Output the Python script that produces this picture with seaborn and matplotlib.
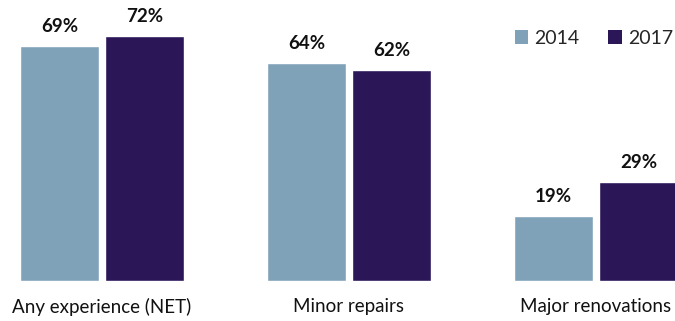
import matplotlib
matplotlib.use("Agg")
import matplotlib.pyplot as plt
from matplotlib.patches import Patch
import seaborn as sns
import pandas as pd

categories = ["Any experience (NET)", "Minor repairs", "Major renovations"]
years = ["2014", "2017"]
values_2014 = [69, 64, 19]
values_2017 = [72, 62, 29]
colors = ["#80A2B9", "#2B1658"]

df = pd.DataFrame({
    "category": categories * 2,
    "year": [years[0]] * 3 + [years[1]] * 3,
    "value": values_2014 + values_2017,
})

sns.set_theme(style="white")
plt.rcParams["font.family"] = ["Lato", "DejaVu Sans"]

fig = plt.figure(figsize=(6.75, 3.21), dpi=100)
ax = fig.add_axes([0, 40 / 321, 1, 281 / 321])

sns.barplot(data=df, x="category", y="value", hue="year", order=categories,
            hue_order=years, palette=colors, width=0.69, gap=0.08,
            saturation=1, legend=False, ax=ax)

for container in ax.containers:
    ax.bar_label(container, labels=[f"{v:.0f}%" for v in container.datavalues],
                 padding=8, fontsize=13.5, fontweight="bold", color="#111111")

ax.set_xlim(-0.413, 2.32)
ax.set_ylim(0, 82.6)
ax.set_xlabel("")
ax.set_ylabel("")
ax.set_yticks([])
ax.tick_params(axis="x", length=0, pad=12, labelsize=13.5, labelcolor="#111111")
sns.despine(ax=ax, left=True, bottom=True)

handles = [Patch(facecolor=c, edgecolor="none") for c in colors]
ax.legend(handles, years, loc="upper right", bbox_to_anchor=(0.997, 0.895),
          borderaxespad=0, borderpad=0, ncol=2, frameon=False, fontsize=14,
          handlelength=0.7, handleheight=0.7, handletextpad=0.3,
          columnspacing=1.5)

fig.savefig("out.png", dpi=100)
